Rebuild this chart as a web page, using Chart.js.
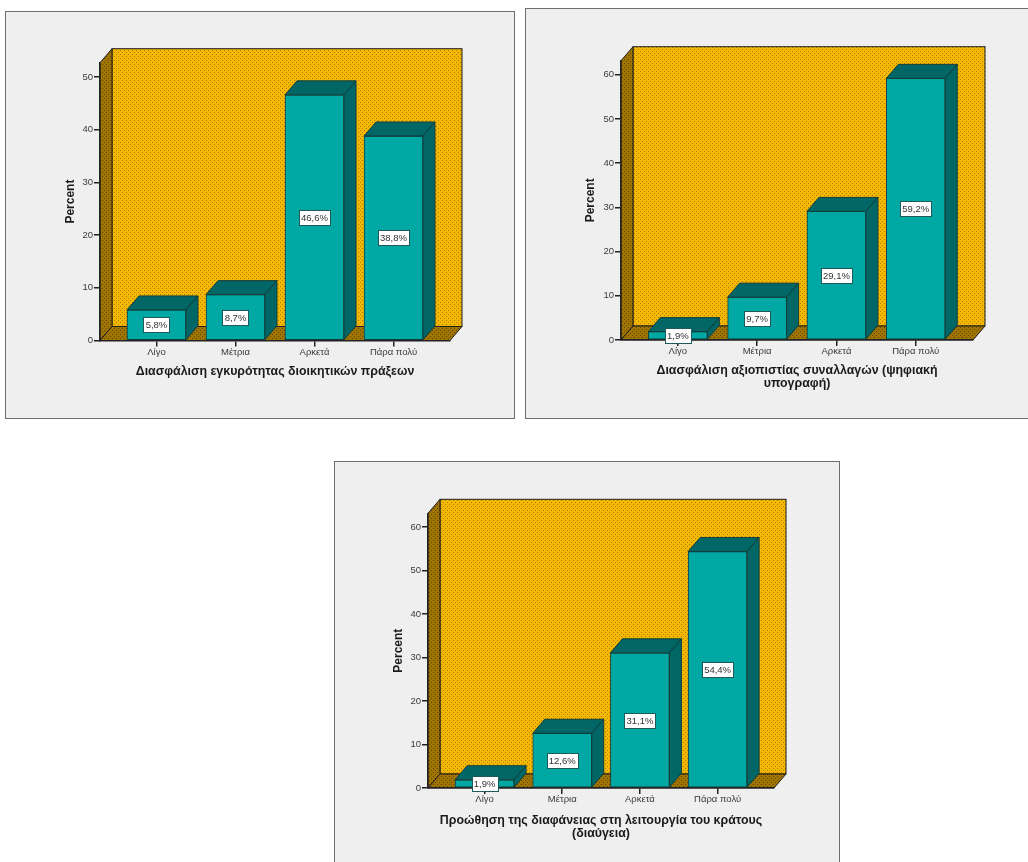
<!DOCTYPE html>
<html>
<head>
<meta charset="utf-8">
<script src="https://cdn.jsdelivr.net/npm/chart.js@4"></script>
<style>
  html, body { margin: 0; padding: 0; background: #fff; overflow: hidden; width: 1028px; height: 862px; }
  .panel { position: absolute; box-sizing: border-box; border: 1px solid #6e6e6e; background: #efefef; }
  canvas { display: block; filter: blur(0.35px); }
</style>
</head>
<body>
<div class="panel" id="p1" style="left:5px;top:11px;width:510px;height:408px"><canvas id="c1" width="508" height="406"></canvas></div>
<div class="panel" id="p2" style="left:525px;top:8px;width:512px;height:411px"><canvas id="c2" width="510" height="409"></canvas></div>
<div class="panel" id="p3" style="left:334px;top:461px;width:506px;height:410px"><canvas id="c3" width="504" height="408"></canvas></div>

<script>
const categories = ["Λίγο", "Μέτρια", "Αρκετά", "Πάρα πολύ"];
const positions = [1, 2, 3, 4];

const values1 = [5.8, 8.7, 46.6, 38.8];
const values2 = [1.9, 9.7, 29.1, 59.2];
const values3 = [1.9, 12.6, 31.1, 54.4];

const yTicks1 = [0, 10, 20, 30, 40, 50];
const yTicks2 = [0, 10, 20, 30, 40, 50, 60];
const yTicks3 = [0, 10, 20, 30, 40, 50, 60];

const title1 = "Διασφάλιση εγκυρότητας διοικητικών πράξεων";
const title2 = ["Διασφάλιση αξιοπιστίας συναλλαγών (ψηφιακή", "υπογραφή)"];
const title3 = ["Προώθηση της διαφάνειας στη λειτουργία του κράτους", "(διαύγεια)"];

const FONT = "'Liberation Sans', Arial, sans-serif";

//Small dotted tile for the walls
function dots(base, dot) {
  const c = document.createElement("canvas");
  c.width = 4;
  c.height = 4;
  const g = c.getContext("2d");
  g.fillStyle = base;
  g.fillRect(0, 0, 4, 4);
  g.fillStyle = dot;
  g.fillRect(0, 0, 1, 1);
  g.fillRect(2, 2, 1, 1);
  return c;
}

//Walls behind the bars
const wallsPlugin = {
  id: "walls",
  beforeDraw(chart, args, o) {
    const ctx = chart.ctx;
    const a = chart.chartArea;
    const d = o.dx, e = o.dy;
    const lit = ctx.createPattern(dots("#f5b800", "#a87c10"), "repeat");
    const dark = ctx.createPattern(dots("#a07400", "#5e4606"), "repeat");
    ctx.save();
    ctx.strokeStyle = "#1c1c1c";
    ctx.lineWidth = 1;
    ctx.fillStyle = lit;
    ctx.fillRect(a.left + d, a.top - e, a.width, a.height);
    ctx.strokeRect(a.left + d, a.top - e, a.width, a.height);
    ctx.fillStyle = dark;
    poly(ctx, [[a.left, a.bottom], [a.left, a.top], [a.left + d, a.top - e], [a.left + d, a.bottom - e]]);
    poly(ctx, [[a.left, a.bottom], [a.right, a.bottom], [a.right + d, a.bottom - e], [a.left + d, a.bottom - e]]);
    ctx.restore();
  }
};

function poly(ctx, pts) {
  ctx.beginPath();
  pts.forEach((p, i) => (i ? ctx.lineTo(p[0], p[1]) : ctx.moveTo(p[0], p[1])));
  ctx.closePath();
  ctx.fill();
  ctx.stroke();
}

//Top and side faces of the bars + the value boxes
const facesPlugin = {
  id: "faces",
  afterDatasetsDraw(chart, args, o) {
    const ctx = chart.ctx;
    const meta = chart.getDatasetMeta(0);
    const d = o.dx, e = o.dy;
    ctx.save();
    ctx.strokeStyle = "#123c3c";
    ctx.lineWidth = 1;
    meta.data.forEach(bar => {
      const l = bar.x - bar.width / 2;
      const r = bar.x + bar.width / 2;
      ctx.fillStyle = "#006766";
      poly(ctx, [[l, bar.y], [l + d, bar.y - e], [r + d, bar.y - e], [r, bar.y]]);
      poly(ctx, [[r, bar.y], [r + d, bar.y - e], [r + d, bar.base - e], [r, bar.base]]);
    });
    ctx.font = "9.5px " + FONT;
    ctx.textAlign = "center";
    ctx.textBaseline = "middle";
    meta.data.forEach((bar, i) => {
      const text = chart.data.datasets[0].data[i].y.toFixed(1).replace(".", ",") + "%";
      const w = Math.round(ctx.measureText(text).width) + 4;
      const cy = (bar.y + bar.base) / 2;
      const bx = Math.round(bar.x - w / 2) + 0.5;
      const by = Math.round(cy - 7.5) + 0.5;
      ctx.fillStyle = "#ffffff";
      ctx.strokeStyle = "#1f5a5a";
      ctx.fillRect(bx, by, w, 15);
      ctx.strokeRect(bx, by, w, 15);
      ctx.fillStyle = "#333333";
      ctx.fillText(text, bar.x, by + 8);
    });
    ctx.restore();
  }
};

function makeChart(id, values, yTicks, title, g) {
  const points = positions.map((p, i) => ({ x: p, y: values[i] }));
  return new Chart(document.getElementById(id), {
    type: "bar",
    data: {
      labels: categories,
      datasets: [{
        data: points,
        backgroundColor: "#00a8a4",
        borderColor: "#123c3c",
        borderWidth: 1,
        borderSkipped: false,
        barThickness: g.barWidth
      }]
    },
    plugins: [wallsPlugin, facesPlugin],
    options: {
      responsive: false,
      animation: false,
      layout: { padding: { top: g.top, right: g.right } },
      plugins: {
        legend: { display: false },
        tooltip: { enabled: false },
        walls: { dx: 12, dy: 14 },
        faces: { dx: 12, dy: 14 }
      },
      scales: {
        x: {
          type: "linear",
          offset: false,
          min: g.xMin,
          max: g.xMax,
          afterBuildTicks: s => { s.ticks = positions.map(v => ({ value: v })); },
          afterFit: s => { s.height = g.xHeight; },
          border: { color: "#222222", width: 1.5 },
          grid: { offset: false, drawOnChartArea: false, color: "#222222", lineWidth: 1.5, tickLength: 6 },
          ticks: {
            color: "#3a3a3a",
            autoSkip: false,
            maxRotation: 0,
            padding: 0,
            font: { family: FONT, size: 9.5 },
            callback: v => categories[v - 1]
          },
          title: {
            display: true,
            text: title,
            color: "#1a1a1a",
            padding: { top: 0, bottom: g.titleBottom },
            font: { family: FONT, size: 12.4, weight: "bold", lineHeight: 1.02 }
          }
        },
        y: {
          min: 0,
          max: g.yMax,
          afterBuildTicks: s => { s.ticks = yTicks.map(v => ({ value: v })); },
          afterFit: s => { s.width = g.left; },
          border: { color: "#222222", width: 1.5 },
          grid: { drawOnChartArea: false, color: "#222222", lineWidth: 1.5, tickLength: 6 },
          ticks: {
            color: "#3a3a3a",
            padding: 1,
            font: { family: FONT, size: 9.5 }
          },
          title: {
            display: true,
            text: "Percent",
            color: "#1a1a1a",
            padding: { top: g.yTitlePad, bottom: 0 },
            font: { family: FONT, size: 12, weight: "bold" }
          }
        }
      }
    }
  });
}

makeChart("c1", values1, yTicks1, title1, {
  top: 50.7, right: 64, left: 94, xHeight: 77.5, yMax: 52.7, xMin: 0.285, xMax: 4.715, barWidth: 59, titleBottom: 40, yTitlePad: 57
});
makeChart("c2", values2, yTicks2, title2, {
  top: 51.7, right: 63, left: 95, xHeight: 78, yMax: 63.2, xMin: 0.283, xMax: 4.722, barWidth: 59, titleBottom: 28, yTitlePad: 57
});
makeChart("c3", values3, yTicks3, title3, {
  top: 51.3, right: 65, left: 93, xHeight: 82, yMax: 63.2, xMin: 0.272, xMax: 4.726, barWidth: 59, titleBottom: 30, yTitlePad: 56
});
</script>
</body>
</html>
